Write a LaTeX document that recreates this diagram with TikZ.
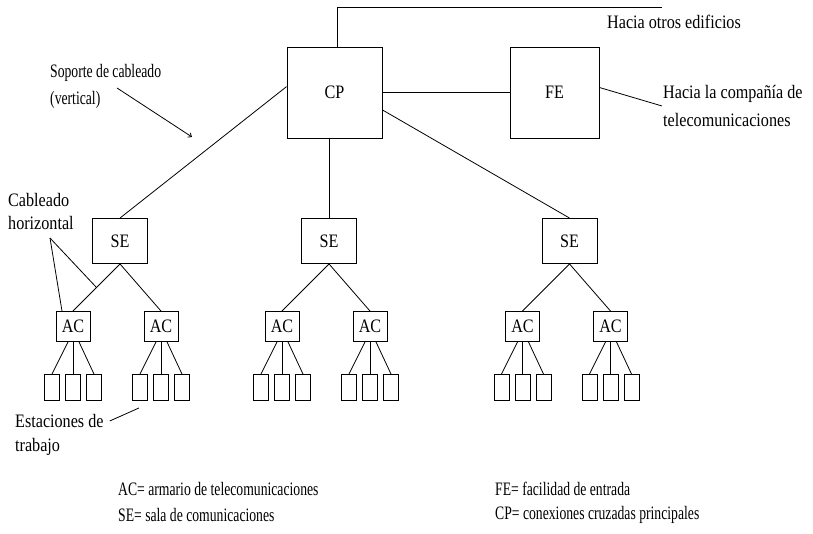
\documentclass[tikz,border=0pt]{standalone}
\usepackage{fontspec}
\setmainfont{Liberation Serif}[FakeStretch=0.85]
\newfontfamily\narrowserif{Liberation Serif}[FakeStretch=0.72]
\usetikzlibrary{arrows.meta,calc}

\begin{document}
\begin{tikzpicture}[x=1pt,y=-1pt,
    box/.style={draw,line width=0.9pt,inner sep=0pt,font=\fontsize{19}{22}\selectfont},
    sebox/.style={box,minimum width=55pt,minimum height=45pt},
    acbox/.style={box,minimum width=34pt,minimum height=30pt},
    wsbox/.style={draw,line width=0.9pt,inner sep=0pt,minimum width=15pt,minimum height=26pt},
    wire/.style={line width=0.8pt},
    lbl/.style={anchor=west,inner sep=0pt,font=\fontsize{19}{22}\selectfont},
    narrowlbl/.style={lbl,font=\narrowserif\fontsize{19}{22}\selectfont}]
    \useasboundingbox (0,0) rectangle (813,534);

    % main cross-connect and entrance facility
    \node[box,minimum width=95pt,minimum height=91pt] (cp) at (334.5,92.5) {CP};
    \node[box,minimum width=89pt,minimum height=91pt] (fe) at (554.5,92.5) {FE};
    \draw[wire] (cp.east) -- (fe.west);

    \coordinate (otros) at (662,7);
    \draw[wire] ([xshift=2.5pt]cp.north) |- (otros);
    \node[lbl] (otroslbl) at (607,22) {Hacia otros edificios};

    \coordinate (telco) at (662,106);
    \draw[wire] ([yshift=5pt]fe.east) -- (telco);
    \node[lbl] (telcolbl1) at (663,94) {Hacia la compañía de};
    \node[lbl] (telcolbl2) at (663,120) {telecomunicaciones};

    % backbone label
    \node[narrowlbl] (soporte1) at (50,73) {Soporte de cableado};
    \node[narrowlbl] (soporte2) at (50,100) {(vertical)};
    \coordinate (sopA) at (117,88);
    \coordinate (sopB) at (192,137);
    \draw[wire,-{Straight Barb[length=3pt,width=5pt]}] (sopA) -- (sopB);

    % telecom rooms, closets and work stations
    \foreach \g/\sx in {1/120,2/329,3/569.5} {
      \node[sebox] (se\g) at (\sx,241) {SE};
      \foreach \k/\d in {a/-47,b/41} {
        \node[acbox] (ac\g\k) at (\sx+\d,326.5) {AC};
        \draw[wire] (se\g.south) -- (ac\g\k.north);
        \foreach \w/\o/\s in {1/-21/-5,2/0/0,3/21/6} {
          \node[wsbox] (ws\g\k\w) at (\sx+\d+\o,387.5) {};
          \draw[wire] ([xshift=\s pt]ac\g\k.south) -- (ws\g\k\w.north);
        }
      }
    }

    \draw[wire] (cp.173) -- (se1.north);
    \draw[wire] (se2.north) -- (se2.north |- cp.south);
    \draw[wire] (cp.-20) -- (se3.north);

    % horizontal cabling label
    \node[lbl] (horiz1) at (8,200) {Cableado};
    \node[lbl] (horiz2) at (8,223) {horizontal};
    \coordinate (horiz) at (50,238);
    \draw[wire] (horiz) -- ([xshift=-11pt]ac1a.north);
    \draw[wire] (horiz) -- ($(se1.south)!0.5!(ac1a.north)$);

    % work stations label
    \node[lbl] (estac1) at (15,421) {Estaciones de};
    \node[lbl] (estac2) at (15,447) {trabajo};
    \draw[wire] ([xshift=6pt]estac1.east) -- ($(ws1b1.south)+(-1,7)$);

    % legend
    \node[narrowlbl] (leyac) at (118,489) {AC= armario de telecomunicaciones};
    \node[narrowlbl] (leyse) at (118,515) {SE= sala de comunicaciones};
    \node[narrowlbl] (leyfe) at (495,489) {FE= facilidad de entrada};
    \node[narrowlbl] (leycp) at (495,515) {CP= conexiones cruzadas principales};
\end{tikzpicture}
\end{document}
